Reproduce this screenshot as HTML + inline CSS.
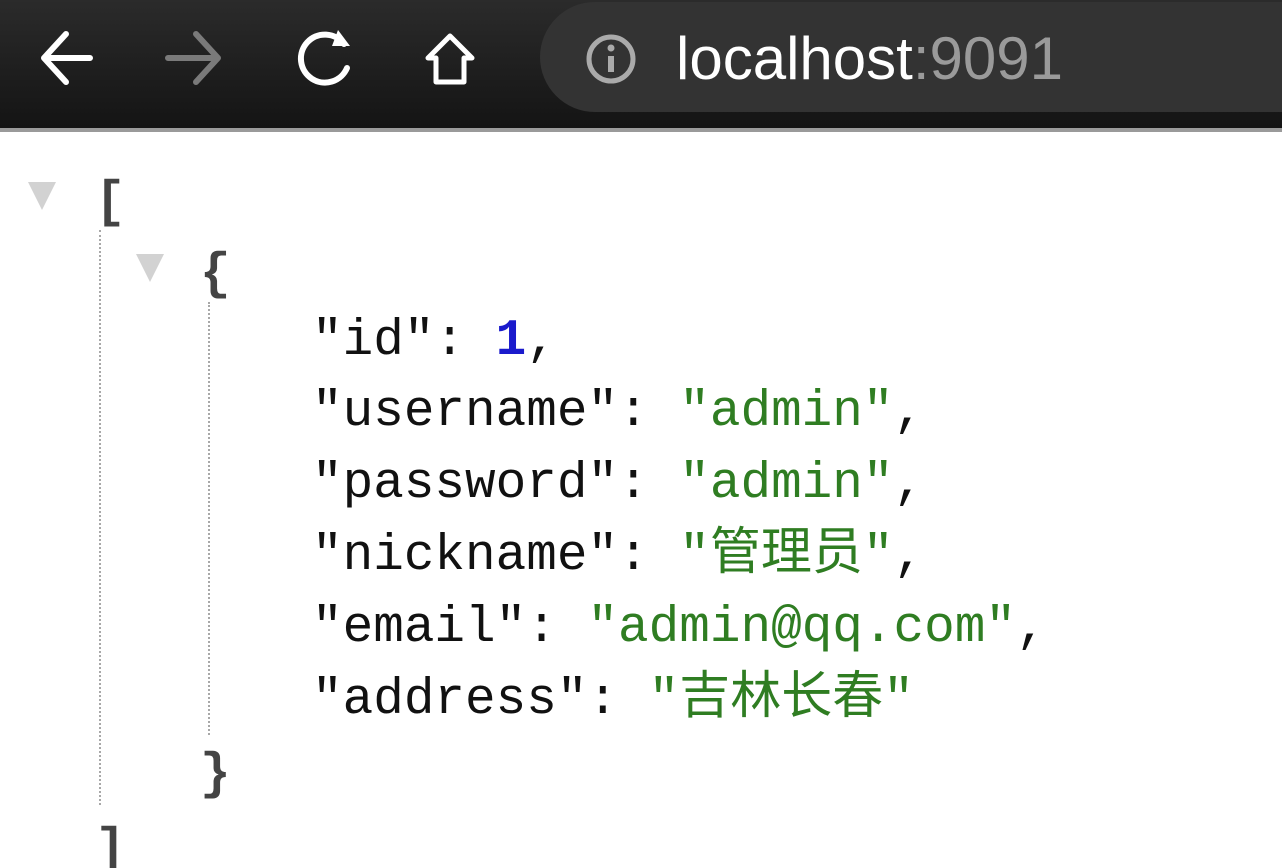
<!DOCTYPE html>
<html><head><meta charset="utf-8"><style>
html,body{margin:0;padding:0;width:1282px;height:868px;overflow:hidden;background:#fff;position:relative}
.bar{position:absolute;left:0;top:0;width:1282px;height:128px;background:linear-gradient(#2b2b2b,#141414)}
.line{position:absolute;left:0;top:128px;width:1282px;height:4px;background:#9a9a9a}
.pill{position:absolute;left:540px;top:2px;width:800px;height:110px;background:#333;border-radius:55px}
.url{position:absolute;left:676px;top:24px;font:60px "Liberation Sans",sans-serif;color:#fff;letter-spacing:0}
.url span{color:#9a9a9a}
.c{position:absolute;font-family:"Liberation Mono","Noto Sans CJK SC",monospace;font-size:51px;line-height:1;white-space:pre;color:#111}
.s{color:#2f7d22}.n{color:#1a1acc;font-weight:bold}
.p{color:#444;font-weight:bold}
.tri{position:absolute;width:0;height:0;border-left:14px solid transparent;border-right:14px solid transparent;border-top:28px solid #d2d2d2}
.dot{position:absolute;width:0;border-left:2px dotted #a8a8a8}
</style></head><body>
<div class="bar"></div><div class="line"></div>
<div class="pill"></div>
<svg style="position:absolute;left:0;top:0" width="540" height="128">
<g fill="none" stroke="#fff" stroke-width="6" stroke-linecap="round" stroke-linejoin="round">
<path d="M90 58H44M66 34L44 58L66 82"/>
<path d="M168 58H216M196 34L218 58L196 82" stroke="#7a7a7a"/>
<path d="M344 44A24 24 0 1 0 347 68"/>
<path d="M436 82V58H428L450 36L472 58H464V82Z" stroke-width="5"/>
</g>
<path d="M338 30L350 46L332 46Z" fill="#fff"/>
</svg>
<svg style="position:absolute;left:584px;top:32px" width="54" height="54"><circle cx="27" cy="27" r="22" fill="none" stroke="#aaa" stroke-width="5"/><rect x="24" y="24" width="6" height="16" fill="#aaa"/><circle cx="27" cy="16" r="3.5" fill="#aaa"/></svg>
<div class="url">localhost<span>:9091</span></div>

<div class="tri" style="left:28px;top:182px"></div>
<div class="tri" style="left:136px;top:254px"></div>
<div class="dot" style="left:99px;top:230px;height:575px"></div>
<div class="dot" style="left:208px;top:302px;height:433px"></div>

<div class="c p" style="left:95px;top:178px">[</div>
<div class="c p" style="left:200px;top:250px">{</div>
<div class="c" style="left:312px;top:316px">"id": <span class="n">1</span>,</div>
<div class="c" style="left:312px;top:387px">"username": <span class="s">"admin"</span>,</div>
<div class="c" style="left:312px;top:459px">"password": <span class="s">"admin"</span>,</div>
<div class="c" style="left:312px;top:531px">"nickname": <span class="s">"管理员"</span>,</div>
<div class="c" style="left:312px;top:603px">"email": <span class="s">"admin@qq.com"</span>,</div>
<div class="c" style="left:312px;top:675px">"address": <span class="s">"吉林长春"</span></div>
<div class="c p" style="left:200px;top:750px">}</div>
<div class="c p" style="left:95px;top:825px">]</div>
</body></html>
